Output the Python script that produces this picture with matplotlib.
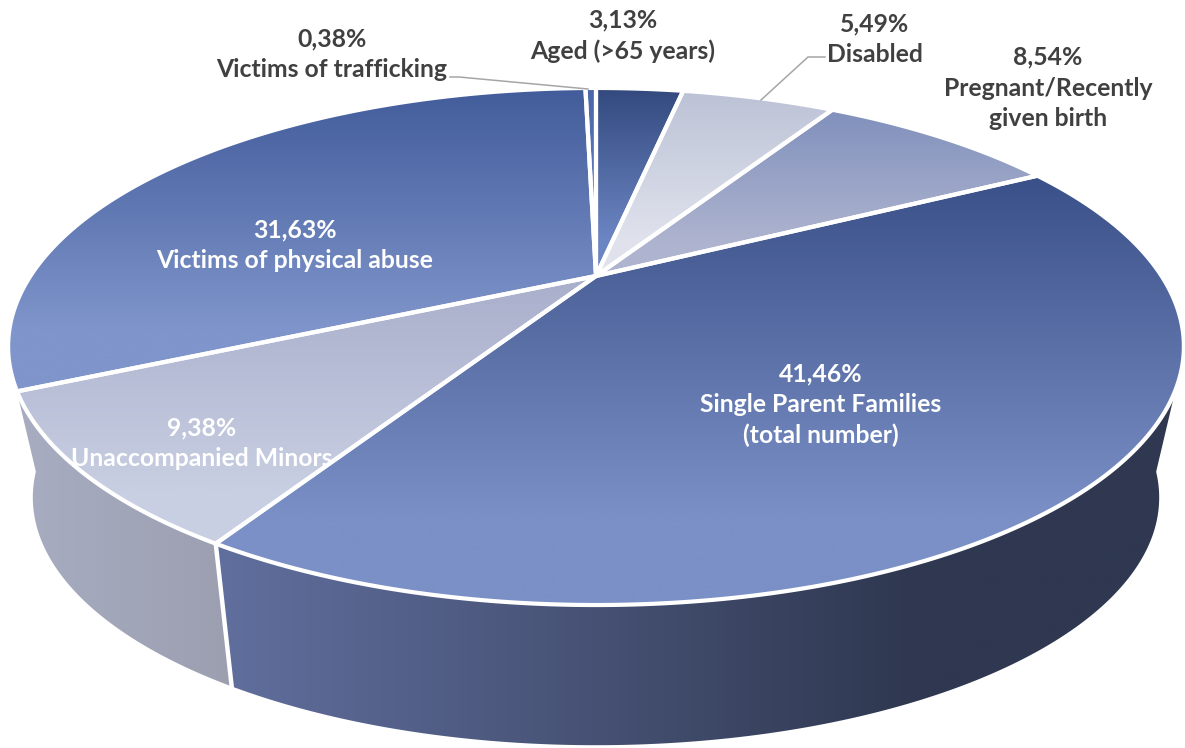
import numpy as np
import matplotlib as mpl
mpl.use('Agg')
import matplotlib.pyplot as plt
from matplotlib.patches import Polygon

plt.rcParams['font.family'] = ['Lato', 'DejaVu Sans']

categories = ['Aged (>65 years)', 'Disabled', 'Pregnant/Recently\ngiven birth',
              'Single Parent Families\n(total number)', 'Unaccompanied Minors',
              'Victims of physical abuse', 'Victims of trafficking']
shares = [3.13, 5.49, 8.54, 41.46, 9.38, 31.63, 0.38]
share_labels = ['3,13%', '5,49%', '8,54%', '41,46%', '9,38%', '31,63%', '0,38%']

# top and bottom colour of each slice
top_colors = ['#33497e', '#bcc2d6', '#8090bc', '#3a5088', '#a9aecb', '#425c9b', '#4a66a8']
bot_colors = ['#6b85c2', '#dfe2ec', '#aeb4cf', '#7b90c6', '#c8cfe2', '#7f95cb', '#6b85c2']

label_pos = [(623, 36), (875, 39), (1048, 88), (821, 405), (202, 443), (295, 245), (332, 54)]
label_col = ['#404040', '#404040', '#404040', 'white', 'white', 'white', '#404040']

# perspective of the disc
cx, cy = 596, 276
A, B, k = 565.6, 239.3, 0.2727
wall_y, wall_s = 430, 0.958


def top_rim(theta):
    t = np.radians(theta)
    d = 1 + k*np.cos(t)
    return cx + A*np.sin(t)/d, cy - B*np.cos(t)/d


def low_rim(theta):
    t = np.radians(theta)
    d = 1 + k*np.cos(t)
    return cx + wall_s*A*np.sin(t)/d, wall_y - wall_s*B*np.cos(t)/d


def gradient(ax, poly, c1, c2, extent, horizontal=False, stop=1.0):
    c1 = np.array(mpl.colors.to_rgb(c1))
    c2 = np.array(mpl.colors.to_rgb(c2))
    f = np.clip(np.linspace(0, 1, 256)/stop, 0, 1)[:, None]
    img = c1 + f*(c2 - c1)
    img = img[None, :, :] if horizontal else img[:, None, :]
    im = ax.imshow(img, extent=extent, aspect='auto', origin='upper',
                   interpolation='bilinear', zorder=2)
    patch = Polygon(poly, closed=True, transform=ax.transData, fc='none', ec='none')
    ax.add_patch(patch)
    im.set_clip_path(patch)


fig = plt.figure(figsize=(11.85, 7.48), dpi=100)
ax = fig.add_axes([0, 0, 1, 1])

edges = np.cumsum([0] + shares)/sum(shares)*360
seam = edges[4]

# side walls
th1 = np.linspace(115, seam, 200)
th2 = np.linspace(seam, 100, 200)
wall = np.vstack([np.column_stack(top_rim(th1)), np.column_stack(low_rim(th2))])
gradient(ax, wall, '#616f9e', '#2f3850', (216, 1185, 748, 300), horizontal=True, stop=0.72)

th1 = np.linspace(seam, 245, 60)
th2 = np.linspace(260, seam, 60)
wall = np.vstack([np.column_stack(top_rim(th1)), np.column_stack(low_rim(th2))])
gradient(ax, wall, '#a8adc2', '#9c9fb0', (10, 232, 748, 300), horizontal=True)

sx, sy = top_rim(seam)
lx, ly = low_rim(seam)
ax.plot([sx, lx], [sy, ly], color='white', lw=3.2, zorder=3)

# top faces
for i in range(len(shares)):
    th = np.linspace(edges[i], edges[i+1], 200)
    x, y = top_rim(th)
    poly = np.column_stack([np.r_[cx, x], np.r_[cy, y]])
    ext = (poly[:, 0].min(), poly[:, 0].max(), poly[:, 1].max(), poly[:, 1].min())
    gradient(ax, poly, top_colors[i], bot_colors[i], ext, stop=0.8)
    ax.add_patch(Polygon(poly, closed=True, fc='none', ec='white', lw=3.0, joinstyle='round', zorder=4))

# leader lines
ax.plot([450, 459, 588], [77, 77, 89], color='#a6a6a6', lw=1.1, zorder=5)
ax.plot([825, 808, 761], [57, 57, 100], color='#a6a6a6', lw=1.1, zorder=5)

for i in range(len(shares)):
    ax.text(label_pos[i][0], label_pos[i][1], share_labels[i] + '\n' + categories[i],
            ha='center', va='center', ma='center', fontsize=17.8, fontweight='bold',
            color=label_col[i], linespacing=1.4, zorder=6)

ax.set_xlim(0, 1185)
ax.set_ylim(748, 0)
ax.axis('off')
fig.savefig('out.png', dpi=100)
